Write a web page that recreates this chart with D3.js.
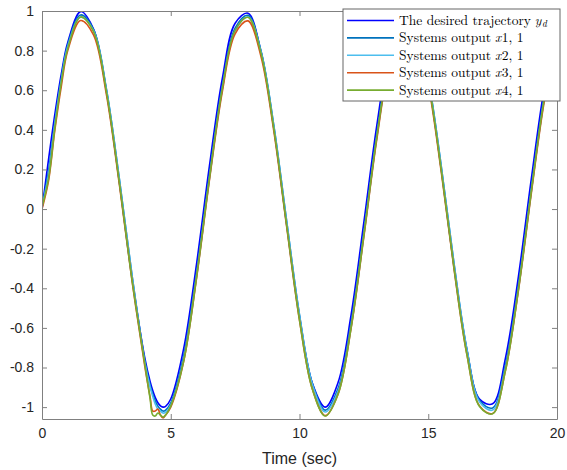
<!DOCTYPE html>
<html>
<head>
<meta charset="utf-8">
<script src="https://cdn.jsdelivr.net/npm/d3@7"></script>
<style>
  body { margin: 0; background: #fff; }
  text { font-family: "Liberation Sans", Arial, sans-serif; }
</style>
</head>
<body>
<div id="chart"></div>
<script>
// time samples (sec)
const time = [0, 0.25, 0.5, 0.75, 1, 1.5, 2, 2.5, 3, 3.5, 4, 4.2, 4.3, 4.4, 4.5, 4.6, 4.7, 4.8, 5,
  5.5, 6, 6.5, 7, 7.5, 8, 8.5, 9, 9.5, 10, 10.5, 11, 11.5, 12, 12.5, 13, 13.5, 14, 14.5, 15,
  15.5, 16, 16.5, 17, 17.5, 18, 18.5, 19, 19.5, 20];

// desired trajectory y_d
const desired = [0, 0.247, 0.479, 0.682, 0.841, 0.997, 0.909, 0.598, 0.141, -0.351, -0.757,
  -0.872, -0.916, -0.952, -0.978, -0.994, -1.0, -0.996, -0.959,
  -0.706, -0.279, 0.215, 0.657, 0.938, 0.989, 0.798, 0.412, -0.075, -0.544,
  -0.880, -1.0, -0.875, -0.537, -0.066, 0.420, 0.804, 0.991, 0.935, 0.650,
  0.207, -0.288, -0.712, -0.961, -0.983, -0.751, -0.342, 0.150, 0.606, 0.913];

// system outputs x_{i,1}
const out1 = [0.01, 0.19, 0.44, 0.66, 0.83, 0.980, 0.907, 0.607, 0.156, -0.338, -0.77,
  -0.89, -0.935, -0.97, -0.995, -1.01, -1.02, -1.015, -0.98,
  -0.742, -0.323, 0.171, 0.619, 0.913, 0.978, 0.801, 0.424, -0.060, -0.534,
  -0.881, -1.015, -0.905, -0.577, -0.111, 0.378, 0.771, 0.972, 0.931, 0.658,
  0.221, -0.274, -0.706, -0.968, -1.004, -0.786, -0.385, 0.105, 0.567, 0.886];

const out2 = [0.01, 0.17, 0.43, 0.65, 0.82, 0.969, 0.901, 0.605, 0.156, -0.339, -0.78,
  -0.90, -0.945, -0.985, -1.01, -1.02, -1.03, -1.025, -0.99,
  -0.759, -0.342, 0.151, 0.602, 0.899, 0.970, 0.797, 0.423, -0.060, -0.535,
  -0.886, -1.025, -0.919, -0.596, -0.131, 0.359, 0.755, 0.961, 0.924, 0.655,
  0.221, -0.275, -0.709, -0.975, -1.015, -0.802, -0.405, 0.085, 0.549, 0.872];

const out3 = [0.0, 0.14, 0.40, 0.62, 0.80, 0.952, 0.879, 0.579, 0.128, -0.366, -0.80,
  -0.95, -1.02, -1.02, -1.01, -1.04, -1.055, -1.04, -1.0,
  -0.770, -0.351, 0.143, 0.591, 0.885, 0.950, 0.773, 0.396, -0.088, -0.562,
  -0.909, -1.043, -0.933, -0.605, -0.139, 0.350, 0.743, 0.944, 0.903, 0.630,
  0.193, -0.302, -0.734, -0.996, -1.032, -0.814, -0.413, 0.077, 0.539, 0.858];

const out4 = [0.01, 0.15, 0.41, 0.64, 0.81, 0.970, 0.896, 0.593, 0.137, -0.362, -0.79,
  -0.96, -1.04, -1.045, -1.03, -1.04, -1.05, -1.04, -0.995,
  -0.769, -0.346, 0.153, 0.606, 0.902, 0.968, 0.789, 0.408, -0.081, -0.559,
  -0.910, -1.045, -0.934, -0.602, -0.132, 0.362, 0.759, 0.962, 0.920, 0.645,
  0.203, -0.297, -0.733, -0.998, -1.034, -0.814, -0.408, 0.087, 0.553, 0.875];

const xTicks = [0, 5, 10, 15, 20];
const yTicks = [-1, -0.8, -0.6, -0.4, -0.2, 0, 0.2, 0.4, 0.6, 0.8, 1];

// legend text pieces: [text, italic, subscript]
const legendParts = [
  [["The desired trajectory", false, false], ["y", true, false], ["d", true, true]],
  [["Systems output", false, false], ["x", true, false], ["1, 1", false, false]],
  [["Systems output", false, false], ["x", true, false], ["2, 1", false, false]],
  [["Systems output", false, false], ["x", true, false], ["3, 1", false, false]],
  [["Systems output", false, false], ["x", true, false], ["4, 1", false, false]]
];

const series = [
  { values: desired, color: "#0000ff" },
  { values: out1, color: "#0072bd" },
  { values: out2, color: "#4dbeee" },
  { values: out3, color: "#d95319" },
  { values: out4, color: "#77ac30" }
];

const margin = { top: 11, right: 10, bottom: 51, left: 42 },
      width = 567 - margin.left - margin.right,
      height = 470 - margin.top - margin.bottom;

const svg = d3.select("#chart").append("svg")
    .attr("width", 567)
    .attr("height", 470)
  .append("g")
    .attr("transform", "translate(" + margin.left + "," + margin.top + ")");

const x = d3.scaleLinear().domain([0, 20]).range([0, width]);
const y = d3.scaleLinear().domain([-1.06, 1]).range([height, 0]);

svg.append("clipPath").attr("id", "clip")
  .append("rect").attr("width", width).attr("height", height);

const line = d3.line()
    .x((d, i) => x(time[i]))
    .y(d => y(d))
    .curve(d3.curveCatmullRom.alpha(0.5));

svg.append("g").attr("clip-path", "url(#clip)")
  .selectAll("path")
  .data(series)
  .enter().append("path")
    .attr("fill", "none")
    .attr("stroke", d => d.color)
    .attr("stroke-width", 1.6)
    .attr("d", d => line(d.values));

// axes (box with inward ticks)
const axisColor = "#808080";
function styleAxis(g) {
  g.select(".domain").attr("stroke", axisColor);
  g.selectAll(".tick line").attr("stroke", axisColor);
  g.selectAll(".tick text").attr("fill", "#262626").style("font-size", "14px");
}

svg.append("g")
    .attr("transform", "translate(0," + height + ")")
    .call(d3.axisBottom(x).tickValues(xTicks).tickSizeInner(-5).tickSizeOuter(0).tickPadding(9))
    .call(styleAxis);

svg.append("g")
    .call(d3.axisTop(x).tickValues(xTicks).tickSizeInner(-5).tickSizeOuter(0).tickFormat(""))
    .call(styleAxis);

svg.append("g")
    .call(d3.axisLeft(y).tickValues(yTicks).tickSizeInner(-5).tickSizeOuter(0).tickPadding(8)
      .tickFormat(d => String(d)))
    .call(styleAxis);

svg.append("g")
    .attr("transform", "translate(" + width + ",0)")
    .call(d3.axisRight(y).tickValues(yTicks).tickSizeInner(-5).tickSizeOuter(0).tickFormat(""))
    .call(styleAxis);

svg.append("text")
    .attr("x", width / 2)
    .attr("y", height + 45)
    .attr("text-anchor", "middle")
    .attr("fill", "#262626")
    .style("font-size", "16px")
    .text("Time (sec)");

// legend
const legend = d3.select("svg").append("g").attr("transform", "translate(343,9)");
legend.append("rect")
    .attr("width", 217)
    .attr("height", 92)
    .attr("fill", "#fff")
    .attr("stroke", "#666")
    .attr("stroke-width", 1);

const serif = "'Latin Modern Roman','CMU Serif','Liberation Serif','DejaVu Serif',serif";

series.forEach(function(s, i) {
  const row = legend.append("g")
      .attr("transform", "translate(0," + (11.5 + i * 17.4) + ")");
  row.append("line")
      .attr("x1", 4).attr("x2", 51)
      .attr("stroke", s.color)
      .attr("stroke-width", 1.6);

  // place each piece after the previous one so nothing overlaps
  let cx = 56;
  legendParts[i].forEach(function(p, j) {
    if (j === 1) cx += 4;           // word space before the math part
    const t = row.append("text")
        .attr("x", cx)
        .attr("y", p[2] ? 3 : 0)
        .attr("dy", "0.33em")
        .attr("fill", "#000")
        .style("font-family", serif)
        .style("font-size", p[2] ? "9.5px" : "13.5px")
        .style("font-style", p[1] ? "italic" : "normal")
        .text(p[0]);
    cx += t.node().getComputedTextLength() + (p[1] && !p[2] ? 0.5 : 0);
  });
});
</script>
</body>
</html>
